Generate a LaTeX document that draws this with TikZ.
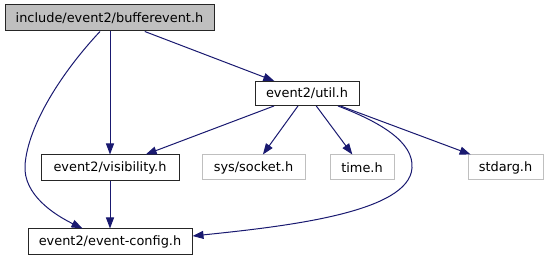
\documentclass[tikz,border=0pt]{standalone}
\usepackage{fontspec}
\setmainfont{DejaVu Sans}
\usetikzlibrary{arrows.meta}
\definecolor{edgeblue}{HTML}{191970}
\definecolor{grey75}{HTML}{BFBFBF}
\begin{document}
\begin{tikzpicture}[x=1pt,y=-1pt,
  every node/.style={font=\fontsize{12.9}{14}\selectfont, inner sep=0pt, rectangle, anchor=center},
  blackbox/.style={draw=black!85, line width=1pt, fill=white},
  greybox/.style={draw=grey75, line width=1pt, fill=white},
  topbox/.style={draw=black!85, line width=1pt, fill=grey75},
  dep/.style={draw=edgeblue, line width=1pt, -{Triangle[length=11pt,width=8pt]}}]
\useasboundingbox (0,0) rectangle (549,261);
\node[topbox, minimum width=209pt, minimum height=26pt] (top) at (109.5,18) {include/event2/bufferevent.h};
\node[blackbox, minimum width=104pt, minimum height=24pt] (util) at (307,93.5) {event2/util.h};
\node[blackbox, minimum width=138pt, minimum height=26pt] (vis) at (110,168) {event2/visibility.h};
\node[greybox, minimum width=103pt, minimum height=25pt] (sock) at (253.5,167.5) {sys/socket.h};
\node[greybox, minimum width=64pt, minimum height=25pt] (time) at (362,167.5) {time.h};
\node[greybox, minimum width=75pt, minimum height=25pt] (stdarg) at (505.5,167.5) {stdarg.h};
\node[blackbox, minimum width=164pt, minimum height=26pt] (config) at (110,242) {event2/event-config.h};

\draw[dep] (top) -- (util);
\draw[dep] (top.south -| vis.north) -- (vis.north);
\draw[dep] ([xshift=-9.5pt]top.south) .. controls (62,72) and (28,125) .. (25,165)
  .. controls (23,195) and (55,215) .. ([xshift=55pt]config.north west);
\draw[dep] (util) -- (vis);
\draw[dep] (util) -- (sock);
\draw[dep] (util) -- (time);
\draw[dep] (util) -- (stdarg);
\draw[dep] ([xshift=31pt]util.south) .. controls (380,122) and (414,142) .. (412,168)
  .. controls (409,212) and (290,226) .. ([yshift=6pt]config.east);
\draw[dep] (vis) -- (config);
\end{tikzpicture}
\end{document}
